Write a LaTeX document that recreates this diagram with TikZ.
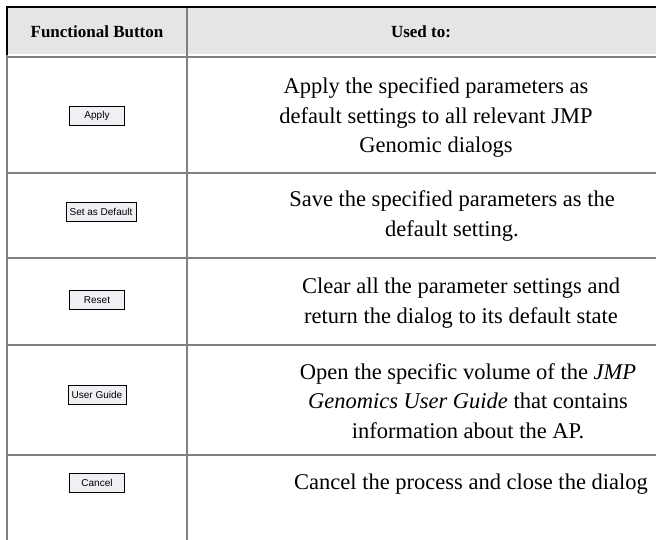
\documentclass[tikz,border=0pt]{standalone}
\usepackage{fontspec}
\setmainfont{Liberation Serif}
\newfontfamily\btnfont{Liberation Sans}
\usepackage{xcolor}
\definecolor{headgray}{RGB}{229,229,229}
\definecolor{rulegray}{RGB}{128,128,128}
\definecolor{btnface}{RGB}{240,240,244}
\usepackage{tikz}
\newcommand{\colsplit}{187}
\newcommand{\tabright}{656}
\newcommand{\widthbutton}{55pt}
\tikzset{
    common/.style={anchor=center, inner sep=0pt},
    head/.style={common, font=\fontsize{17}{20}\selectfont\bfseries},
    usedto/.style={common, align=center, font=\fontsize{22.5}{29.5}\selectfont},
    button/.style={common, draw=black, fill=btnface, line width=1pt, minimum height=19pt, minimum width=\widthbutton, font=\btnfont\fontsize{10}{11}\selectfont},
    rowrule/.style={rulegray, line width=2.5pt},
    toprule/.style={black, line width=2.5pt}
}

\begin{document}
\begin{tikzpicture}[x=1pt, y=-1pt]
    \useasboundingbox (0,0) rectangle (656,540);
    \fill[headgray] (7,7) rectangle (\tabright,54);

    % grid
    \foreach \y in {57,173,258,345,455}
        \draw[rowrule] (7,\y) -- (\tabright,\y);
    \draw[rowrule] (7,55) -- (7,540);
    \draw[rowrule] (\colsplit,7) -- (\colsplit,540);
    \draw[toprule] (7,55) -- (7,7) -- (\tabright,7);

    % header
    \node[head] (fbutton) at (97,32) {Functional Button};
    \node[head] (usedto) at (421,32) {Used to:};

    % buttons
    \node[button] (apply) at (97,116) {Apply};
    \node[button, minimum width=70pt] (setdefault) at (101,212) {Set as Default};
    \node[button] (reset) at (97,300) {Reset};
    \node[button, minimum width=58pt] (userguide) at (97,395) {User Guide};
    \node[button] (cancel) at (97,483) {Cancel};

    % descriptions
    \node[usedto] (applytxt) at (436,118) {Apply the specified parameters as\\default settings to all relevant JMP\\Genomic dialogs};
    \node[usedto] (setdefaulttxt) at (452,216) {Save the specified parameters as the\\default setting.};
    \node[usedto] (resettxt) at (461,303) {Clear all the parameter settings and\\return the dialog to its default state};
    \node[usedto] (userguidetxt) at (468,401) {Open the specific volume of the \emph{JMP}\\\emph{Genomics User Guide} that contains\\information about the AP.};
    \node[usedto] (canceltxt) at (471,484) {Cancel the process and close the dialog};
\end{tikzpicture}
\end{document}
